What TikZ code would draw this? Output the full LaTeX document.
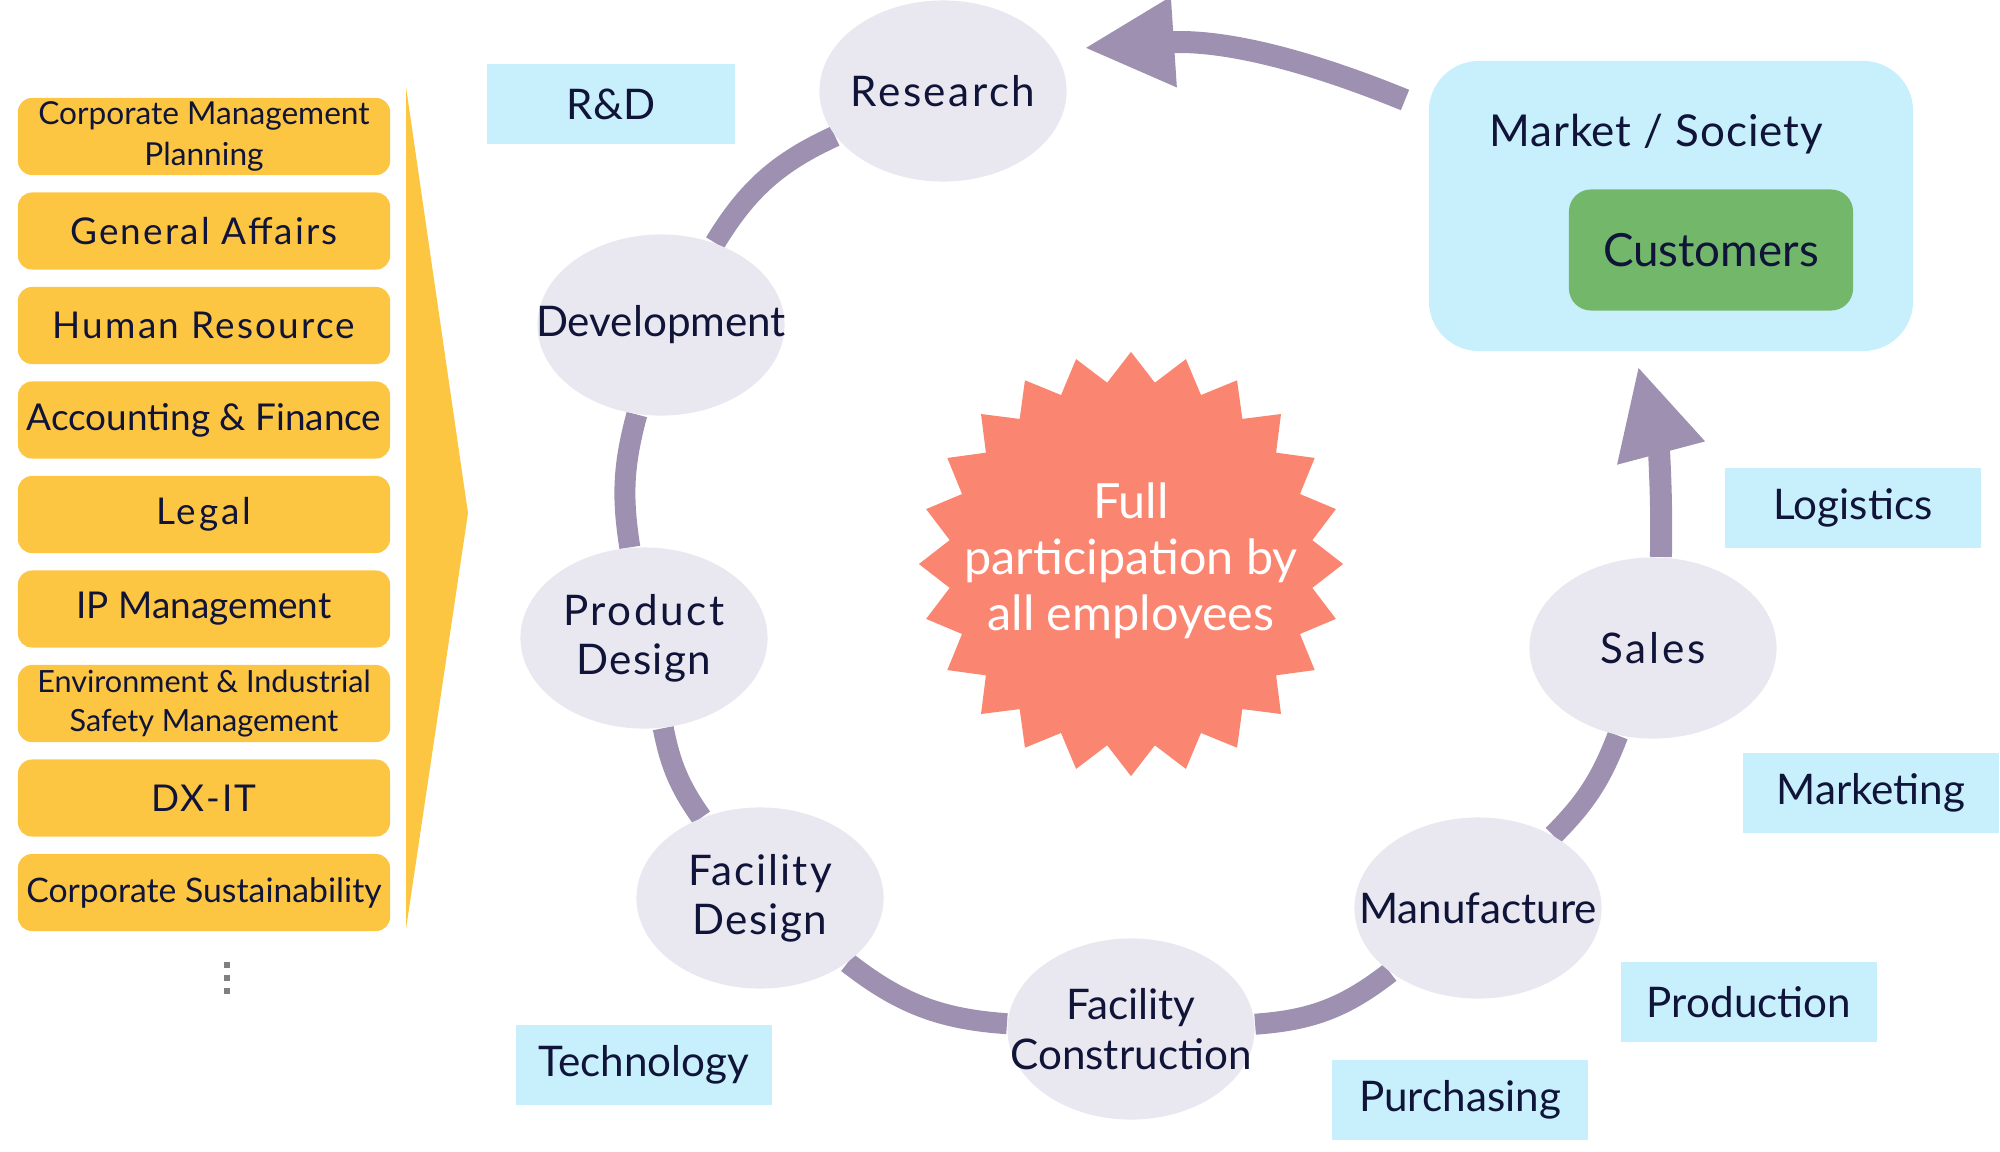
\documentclass[tikz,border=0pt]{standalone}
\usepackage{fontspec}
\setmainfont{Lato}
\usetikzlibrary{shapes.geometric,arrows.meta}
\pgfdeclarelayer{fondo}
\pgfsetlayers{fondo,main}

\definecolor{deptyellow}{RGB}{253,198,66}
\definecolor{areablue}{RGB}{200,239,252}
\definecolor{stagegray}{RGB}{233,231,240}
\definecolor{ringlila}{RGB}{158,144,177}
\definecolor{custgreen}{RGB}{115,184,106}
\definecolor{burstred}{RGB}{250,133,112}
\definecolor{ink}{RGB}{16,20,56}
\newcommand{\tracked}[2]{{\addfontfeatures{LetterSpace=#1}#2}}

\begin{document}
\begin{tikzpicture}[x=0.01cm, y=-0.01cm,
    dept/.style={fill=deptyellow, rounded corners=0.14cm, minimum width=3.72cm,
      minimum height=0.77cm, inner sep=0pt, align=center, text=ink,
      font=\fontsize{10.5}{12}\selectfont},
    area/.style={fill=areablue, minimum width=2.56cm, minimum height=0.8cm,
      inner sep=0pt, text=ink, font=\fontsize{12}{14}\selectfont},
    stage/.style={ellipse, fill=stagegray, minimum width=2.47cm,
      minimum height=1.81cm, inner sep=0pt,
      label={[align=center, text=ink, font=\fontsize{12}{14}\selectfont]center:#1}},
    ring/.style={draw=ringlila, line width=0.21cm},
    bigarrow/.style={draw=ringlila, line width=0.22cm,
      -{Triangle[length=0.9cm, width=0.84cm]}}]
    \useasboundingbox (0,0) rectangle (2000,1151);
    % Departamentos
    \node[dept, font=\fontsize{9}{11.5}\selectfont] (cmp) at (204,136.5) {Corporate Management\\Planning};
    \node[dept] (ga) at (204,231) {\tracked{6}{General Affairs}};
    \node[dept] (hr) at (204,325.5) {\tracked{6}{Human Resource}};
    \node[dept] (acc) at (204,420) {Accounting \& Finance};
    \node[dept] (legal) at (204,514.5) {\tracked{8}{Legal}};
    \node[dept] (ip) at (204,609) {IP Management};
    \node[dept, font=\fontsize{8.7}{11}\selectfont] (env) at (204,703.5) {Environment \& Industrial\\Safety Management};
    \node[dept] (dx) at (204,798) {\tracked{6}{DX-IT}};
    \node[dept, font=\fontsize{9.6}{12}\selectfont] (sust) at (204,892.5) {Corporate Sustainability};
    \fill[deptyellow] (406,87) -- (468,513) -- (406,929) -- cycle;
    \foreach \y in {962,975,988}
        \fill[gray] (224,\y) rectangle +(6,6);
    % Areas
    \node[area, minimum width=2.48cm] (rd) at (611,104) {R\&D};
    \node[area] (tech) at (644,1065) {Technology};
    \node[area] (purch) at (1460,1100) {Purchasing};
    \node[area] (prod) at (1749,1002) {Production};
    \node[area] (mkting) at (1871,793) {Marketing};
    \node[area] (logi) at (1853,508) {Logistics};
    % Etapas
    \node[stage={\tracked{6}{Research}}] (research) at (943,91) {};
    \node[stage={Development}] (devel) at (661,325) {};
    \node[stage={\tracked{6}{Product}\\\tracked{3}{Design}}] (pdesign) at (644,638) {};
    \node[stage={\tracked{5}{Facility}\\\tracked{3}{Design}}] (fdesign) at (760,898) {};
    \node[stage={Facility\\Construction}] (fconst) at (1131,1029) {};
    \node[stage={Manufacture}] (manuf) at (1478,908) {};
    \node[stage={\tracked{7}{Sales}}] (sales) at (1653,648) {};
    % Mercado
    \node[fill=areablue, rounded corners=0.5cm, minimum width=4.84cm,
        minimum height=2.9cm] (market) at (1671,206) {};
    \node[text=ink, font=\fontsize{12.5}{15}\selectfont] (mktlabel) at (1656,134) {\tracked{2}{Market / Society}};
    \node[fill=custgreen, rounded corners=0.22cm, minimum width=2.84cm,
        minimum height=1.21cm, text=ink, font=\fontsize{13}{15}\selectfont] (cust) at (1711,250) {Customers};
    % Centro
    \node[star, star points=24, star point ratio=1.16, fill=burstred,
        minimum size=4.24cm, inner sep=0pt] (burst) at (1131,564) {};
    \node[align=center, text=white, font=\fontsize{13.8}{15.9}\selectfont] (bursttxt) at (1131,561)
        {Full\\participation by\\all employees};
    % Ciclo
    \coordinate (mktout) at (1405,100);
    \coordinate (resin) at (1084,48);
    \coordinate (mktin) at (1638,366);
    \begin{pgfonlayer}{fondo}
        \draw[ring] (research) to[bend right=17] (devel);
        \draw[ring] (devel) to[bend right=12] (pdesign);
        \draw[ring] (pdesign) to[bend right=12] (fdesign);
        \draw[ring] (fdesign) to[bend right=17] (fconst);
        \draw[ring] (fconst) to[bend right=17] (manuf);
        \draw[ring] (manuf) to[bend right=12] (sales);
        \draw[bigarrow] (sales) to[bend right=8] (mktin);
        \draw[bigarrow] (mktout) to[bend right=13] (resin);
    \end{pgfonlayer}
\end{tikzpicture}
\end{document}
